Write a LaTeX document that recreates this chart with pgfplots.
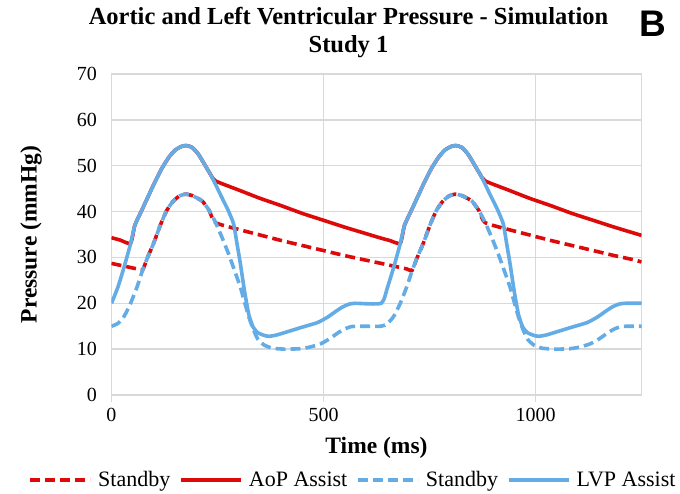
\documentclass[border=0pt]{standalone}
\usepackage{fontspec}
\setmainfont{Liberation Serif}
\newfontfamily\arialfont{Liberation Sans}
\usepackage{pgfplots}
\pgfplotsset{compat=1.18}
\definecolor{aored}{RGB}{222,10,10}
\definecolor{lvblue}{RGB}{100,172,230}
\definecolor{gridgray}{RGB}{217,217,217}

\begin{document}
\begin{tikzpicture}
\useasboundingbox (-111.5pt,-98pt) rectangle (568.5pt,395pt);
\begin{axis}[
  at={(0pt,0pt)}, anchor=south west,
  scale only axis,
  width=530pt, height=321pt,
  xmin=0, xmax=1250, ymin=0, ymax=70,
  xtick={0,500,1000},
  ytick={0,10,20,30,40,50,60,70},
  xmajorgrids, ymajorgrids,
  major grid style={draw=gridgray, line width=1.3pt},
  axis line style={draw=gridgray, line width=1.3pt},
  tick align=outside,
  xtick pos=bottom, ytick pos=left,
  xtick style={draw=gridgray, line width=1.3pt},
  major tick length=7pt,
  ytick style={draw=none},
  /pgf/number format/assume math mode=true,
  /pgf/number format/1000 sep={},
  tick label style={font=\fontsize{20}{24}\selectfont},
  xticklabel style={yshift=-3pt},
  yticklabel style={xshift=-4pt},
  xlabel={\textbf{Time (ms)}},
  ylabel={\textbf{Pressure (mmHg)}},
  label style={font=\fontsize{23.5}{27}\selectfont},
  xlabel style={at={(axis description cs:0.5,0)}, anchor=center, yshift=-53pt},
  ylabel style={at={(axis description cs:0,0.5)}, anchor=center, rotate=0, yshift=80.5pt},
  legend columns=4,
  legend style={at={(0.4557,-0.2648)}, anchor=center, draw=none, fill=none,
    font=\fontsize{22}{26}\selectfont,
    column sep=0pt,
    inner sep=0pt},
  legend image code/.code={\draw[#1] (0pt,0pt) -- (60pt,0pt); \path (64pt,0pt);},
  every axis plot/.append style={line width=3.6pt, smooth, tension=0.35},
]
% AoP Standby
\addplot[aored, dash pattern=on 10pt off 5pt] coordinates {
(0,28.7) (30,28.1) (60,27.5) (73,27.2) (85,30) (99,33) (115,37) (130,40.2) (145,42.2) (160,43.4) (175,43.8) (190,43.5) (205,42.8) (215,42.2) (230,40.3) (245,37.6) (300,36.1) (350,34.9) (400,33.7) (450,32.6) (500,31.5) (550,30.4) (600,29.4) (636,28.7) (666,28.1) (696,27.5) (709,27.2) (721,30) (735,33) (751,37) (766,40.2) (781,42.2) (796,43.4) (811,43.8) (826,43.5) (841,42.8) (851,42.2) (866,40.3) (881,37.6) (936,36.1) (986,34.9) (1036,33.7) (1086,32.6) (1136,31.5) (1186,30.4) (1236,29.4) (1250,29.0)
};
\addlegendentry{Standby\hspace*{7pt}}
% AoP Assist
\addplot[aored] coordinates {
(0,34.3) (20,33.8) (45,33.1) (55,37) (70,40) (85,43) (100,46) (118,49.3) (135,51.8) (150,53.4) (165,54.2) (176,54.4) (190,54) (205,52.5) (220,50.2) (233,48.2) (245,46.7) (300,44.7) (350,42.9) (400,41.3) (450,39.6) (500,38.1) (550,36.6) (600,35.2) (636,34.2) (656,33.7) (681,33.1) (691,37) (706,40) (721,43) (736,46) (754,49.3) (771,51.8) (786,53.4) (801,54.2) (812,54.4) (826,54) (841,52.5) (856,50.2) (869,48.2) (881,46.7) (936,44.7) (986,42.9) (1036,41.3) (1086,39.6) (1136,38.1) (1186,36.6) (1236,35.2) (1250,34.8)
};
\addlegendentry{AoP Assist\hspace*{7pt}}
% LVP Standby
\addplot[lvblue, dash pattern=on 10pt off 5pt] coordinates {
(0,15) (15,15.6) (30,17.2) (45,20) (60,23.5) (73,27.1) (85,30) (99,33) (115,37) (130,40.2) (145,42.2) (160,43.4) (175,43.8) (190,43.5) (205,42.8) (215,42.2) (230,40.3) (245,37.7) (260,34.5) (276,30.8) (290,27.2) (304,23.5) (314,20.2) (324,17) (334,14.4) (345,12.2) (360,10.9) (380,10.2) (410,10) (446,10.1) (470,10.5) (494,11.2) (515,12.3) (535,13.6) (550,14.4) (565,14.9) (580,15) (636,15)
(651,15.6) (666,17.2) (681,20) (696,23.5) (709,27.1) (721,30) (735,33) (751,37) (766,40.2) (781,42.2) (796,43.4) (811,43.8) (826,43.5) (841,42.8) (851,42.2) (866,40.3) (881,37.7) (896,34.5) (912,30.8) (926,27.2) (940,23.5) (950,20.2) (960,17) (970,14.4) (981,12.2) (996,10.9) (1016,10.2) (1046,10) (1082,10.1) (1106,10.5) (1130,11.2) (1151,12.3) (1171,13.6) (1186,14.4) (1201,14.9) (1216,15) (1250,15)
};
\addlegendentry{Standby\hspace*{7pt}}
% LVP Assist
\addplot[lvblue] coordinates {
(0,20) (15,23.5) (30,28) (45,33) (55,37) (70,40) (85,43) (100,46) (118,49.3) (135,51.8) (150,53.4) (165,54.2) (176,54.4) (190,54) (205,52.5) (220,50.2) (233,48.2) (245,46) (258,43.5) (275,40.3) (288,37.3) (296,33) (304,28.6) (314,22.5) (324,17.5) (334,14.8) (345,13.6) (360,13) (372,12.8) (390,13.1) (415,13.8) (450,14.8) (486,15.8) (510,17) (530,18.3) (545,19.2) (560,19.8) (575,20) (636,20)
(651,23.5) (666,28) (681,33) (691,37) (706,40) (721,43) (736,46) (754,49.3) (771,51.8) (786,53.4) (801,54.2) (812,54.4) (826,54) (841,52.5) (856,50.2) (869,48.2) (881,46) (894,43.5) (911,40.3) (924,37.3) (932,33) (940,28.6) (950,22.5) (960,17.5) (970,14.8) (981,13.6) (996,13) (1008,12.8) (1026,13.1) (1051,13.8) (1086,14.8) (1122,15.8) (1146,17) (1166,18.3) (1181,19.2) (1196,19.8) (1211,20) (1250,20)
};
\addlegendentry{LVP Assist}
\end{axis}
\node[align=center, font=\bfseries\fontsize{24.5}{28}\selectfont] at (237pt,362pt) {Aortic and Left Ventricular Pressure - Simulation\\Study 1};
\node[font=\arialfont\bfseries\fontsize{37}{40}\selectfont] at (541pt,371pt) {B};
\end{tikzpicture}
\end{document}
